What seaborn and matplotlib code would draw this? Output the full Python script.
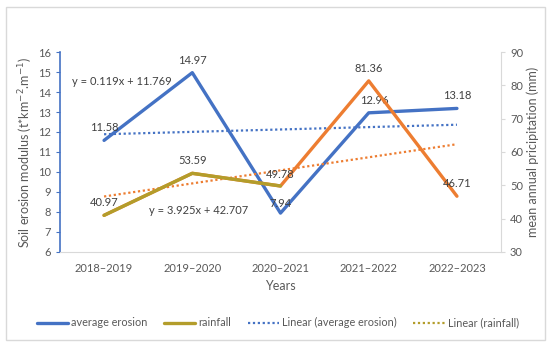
import numpy as np
import pandas as pd
import matplotlib
matplotlib.use("Agg")
import matplotlib.pyplot as plt
import seaborn as sns
from matplotlib.lines import Line2D
from matplotlib.patches import Rectangle

years = ["2018–2019", "2019–2020", "2020–2021", "2021–2022", "2022–2023"]
erosion = [11.58, 14.97, 7.94, 12.96, 13.18]
rainfall = [40.97, 53.59, 49.78, 81.36, 46.71]

BLUE = "#4472C4"
ORANGE = "#ED7D31"
OLIVE = "#B39D2B"
GREY = "#595959"

sns.set_style("white")
plt.rcParams["font.family"] = ["Lato", "DejaVu Sans"]

df = pd.DataFrame({"x": np.arange(len(years)), "erosion": erosion, "rainfall": rainfall})

fig = plt.figure(figsize=(5.5, 3.45), dpi=100)
ax = fig.add_axes([0.109, 0.270, 0.802, 0.579])
ax2 = ax.twinx()

# linear trends (Excel style, x = 1..n)
xs = np.arange(1, len(years) + 1)
k1, b1 = np.polyfit(xs, erosion, 1)
k2, b2 = np.polyfit(xs, rainfall, 1)
df["trend_e"] = k1 * xs + b1
df["trend_r"] = k2 * xs + b2

sns.lineplot(data=df, x="x", y="erosion", ax=ax, color=BLUE, lw=2.4, zorder=3)
sns.lineplot(data=df, x="x", y="trend_e", ax=ax, color=BLUE, lw=1.6, ls=(0, (1, 1.2)), zorder=2)

sns.lineplot(data=df, x="x", y="rainfall", ax=ax2, color=ORANGE, lw=2.4, zorder=3)
sns.lineplot(data=df.iloc[:3], x="x", y="rainfall", ax=ax2, color=OLIVE, lw=2.4, zorder=4)
sns.lineplot(data=df, x="x", y="trend_r", ax=ax2, color=ORANGE, lw=1.6, ls=(0, (1, 1.2)), zorder=2)

# data labels
e_off = [(0, 5), (0, 5), (0, 3), (4, 5), (0, 5)]
for i, v in enumerate(erosion):
    ax.annotate(f"{v:.2f}", (i, v), xytext=e_off[i], textcoords="offset points",
                ha="center", va="bottom", fontsize=8, color="#404040")
r_off = [(0, 5), (0, 5), (0, 4), (0, 5), (0, 5)]
for i, v in enumerate(rainfall):
    ax2.annotate(f"{v:.2f}", (i, v), xytext=r_off[i], textcoords="offset points",
                 ha="center", va="bottom", fontsize=8, color="#404040")

ax.text(-0.36, 14.55, f"y = {k1:.3f}x + {b1:.3f}", fontsize=8, color="#404040", va="center")
ax.text(0.51, 8.05, f"y = {k2:.3f}x + {b2:.3f}", fontsize=8, color="#404040", va="center")

ax.set_xlim(-0.5, len(years) - 0.5)
ax.set_ylim(6, 16)
ax2.set_ylim(30, 90)
ax.set_yticks(range(6, 17))
ax2.set_yticks(range(30, 91, 10))
ax.set_xticks(range(len(years)))
ax.set_xticklabels(years)
ax.set_xticks(np.arange(0.5, len(years) - 0.5), minor=True)

ax.set_xlabel("Years", fontsize=9, color=GREY, labelpad=4)
ax.set_ylabel("Soil erosion modulus (t*km$^{-2}$.m$^{-1}$)", fontsize=9, color=GREY, labelpad=2)
ax2.set_ylabel("mean annual pricipitation (mm)", fontsize=9, color=GREY, labelpad=2)

for a in (ax, ax2):
    a.tick_params(axis="both", labelsize=8, colors=GREY, length=3, width=0.8)
    for s in a.spines.values():
        s.set_visible(False)
ax.tick_params(axis="x", length=0, pad=8)
ax.tick_params(axis="x", which="minor", length=3, direction="in", color="#D9D9D9")
ax.tick_params(axis="y", color=BLUE, direction="out")
ax2.tick_params(axis="y", color="#D9D9D9", direction="out")
ax.spines["left"].set_visible(True)
ax.spines["left"].set_color(BLUE)
ax.spines["left"].set_linewidth(1.2)
ax.spines["bottom"].set_visible(True)
ax.spines["bottom"].set_color("#D9D9D9")
ax2.spines["right"].set_visible(True)
ax2.spines["right"].set_color("#D9D9D9")

handles = [
    Line2D([], [], color=BLUE, lw=2.4),
    Line2D([], [], color=OLIVE, lw=2.4),
    Line2D([], [], color=BLUE, lw=1.6, ls=(0, (1, 1.2))),
    Line2D([], [], color=OLIVE, lw=1.6, ls=(0, (1, 1.2))),
]
labels = ["average erosion", "rainfall", "Linear (average erosion)", "Linear (rainfall)"]
fig.legend(handles, labels, loc="center", bbox_to_anchor=(0.505, 0.064), ncol=4, frameon=False,
           fontsize=7.8, labelcolor=GREY, handlelength=2.9, handletextpad=0.3, columnspacing=1.5)

fig.patches.append(Rectangle((6 / 550, 5 / 345), 539 / 550, 333 / 345, transform=fig.transFigure,
                             fill=False, edgecolor="#D9D9D9", lw=1))

fig.savefig("out.png", dpi=100)
